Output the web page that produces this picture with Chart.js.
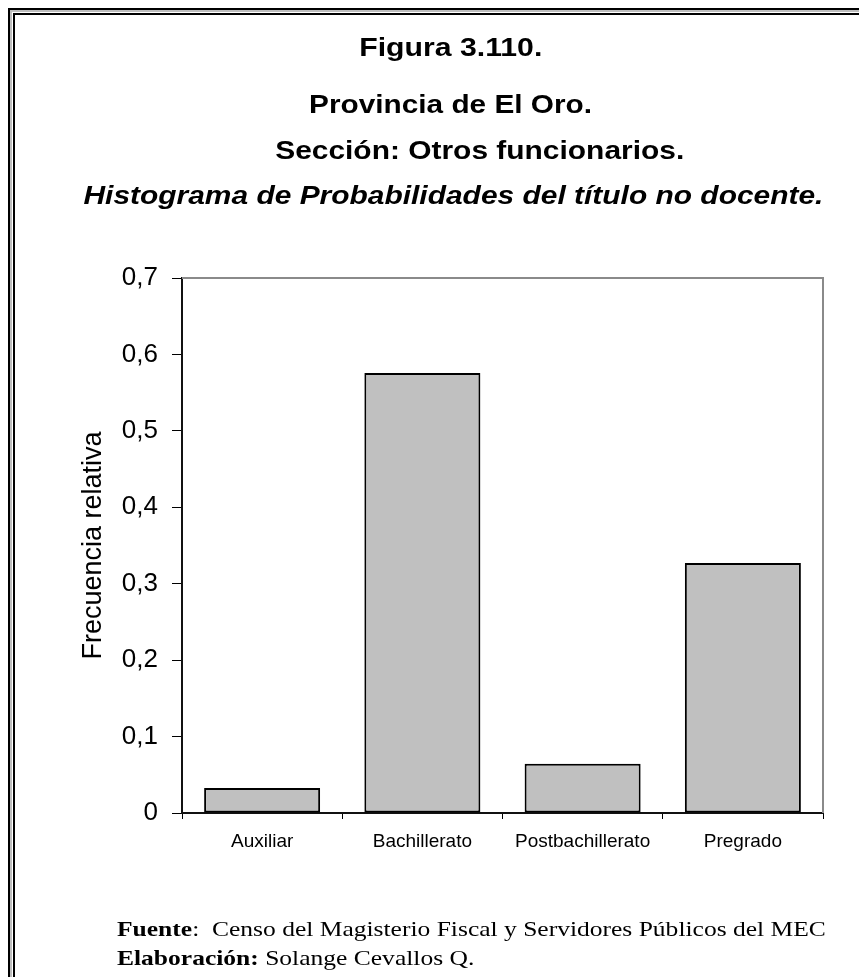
<!DOCTYPE html>
<html lang="es"><head><meta charset="utf-8"/>
<title>Figura 3.110</title>
<script src="https://cdn.jsdelivr.net/npm/chart.js@4.4.1/dist/chart.umd.min.js"></script>
<style>
  html,body{margin:0;padding:0;background:#fff;overflow:hidden}
  body{width:859px;height:977px;position:relative}
  .frame{position:absolute;left:13px;top:13px;width:1000px;height:1100px;border:2px solid #000;
    box-shadow:0 0 0 1px #fff,0 0 0 3px #bdbdbd,0 0 0 5px #000}
  .t{position:absolute;white-space:nowrap;line-height:1;color:#000;
    font-family:"Liberation Sans",Arial,sans-serif;font-weight:bold;font-size:26px;
    transform-origin:center center}
  .t.it{font-style:italic}
  .foot{position:absolute;left:117px;white-space:nowrap;line-height:1;color:#000;
    font-family:"Liberation Serif","Times New Roman",serif;font-size:22px;transform-origin:left center}
  #chart{position:absolute;left:0;top:0}
</style></head><body>
<div class="frame"></div>
<canvas id="chart" width="859" height="977"></canvas>

<div class="t" data-cx="451" data-w="183" style="top:34px">Figura 3.110.</div>
<div class="t" data-cx="451" data-w="283" style="top:91px">Provincia de El Oro.</div>
<div class="t" data-cx="480" data-w="409" style="top:137px">Sección: Otros funcionarios.</div>
<div class="t it" data-cx="453" data-w="740" style="top:182px">Histograma de Probabilidades del título no docente.</div>

<div class="foot" id="f1" style="top:918px"><b>Fuente</b>:&nbsp; Censo del Magisterio Fiscal y Servidores Públicos del MEC</div>
<div class="foot" id="f2" style="top:947px"><b>Elaboración:</b> Solange Cevallos Q.</div>

<script>
// títulos centrados y estirados al ancho de la figura
document.querySelectorAll('.t').forEach(el => {
  const w = el.getBoundingClientRect().width;
  const s = (+el.dataset.w) / w;
  el.style.left = (+el.dataset.cx - w / 2) + 'px';
  el.style.transform = 'scaleX(' + s.toFixed(3) + ')';
});
const fw = document.getElementById('f1').getBoundingClientRect().width;
const fs = 709 / fw;
['f1','f2'].forEach(id => document.getElementById(id).style.transform = 'scaleX(' + fs.toFixed(3) + ')');

// datos
const categorias = ['Auxiliar', 'Bachillerato', 'Postbachillerato', 'Pregrado'];
const frecuencias = [0.0327, 0.5757, 0.0645, 0.3271];
const yTickLabels = ['0', '0,1', '0,2', '0,3', '0,4', '0,5', '0,6', '0,7'];

const SANS = '"Liberation Sans", Arial, sans-serif';

// marco gris arriba y a la derecha del área de trazado
const plotFrame = {
  id: 'plotFrame',
  beforeDatasetsDraw(chart) {
    const {ctx, chartArea: a} = chart;
    ctx.save();
    ctx.strokeStyle = '#8a8a8a';
    ctx.lineWidth = 2;
    ctx.beginPath();
    ctx.moveTo(a.left, a.top);
    ctx.lineTo(a.right, a.top);
    ctx.lineTo(a.right, a.bottom);
    ctx.stroke();
    ctx.restore();
  }
};

new Chart(document.getElementById('chart'), {
  type: 'bar',
  data: {
    labels: categorias,
    datasets: [{
      data: frecuencias,
      backgroundColor: '#c0c0c0',
      borderColor: '#000',
      borderWidth: 2,
      borderSkipped: false,
      barPercentage: 0.724,
      categoryPercentage: 1
    }]
  },
  options: {
    responsive: false,
    animation: false,
    layout: {padding: {left: 77, top: 278, right: 36, bottom: 114}},
    plugins: {legend: {display: false}, tooltip: {enabled: false}},
    scales: {
      x: {
        afterFit: s => { s.height = 50; },
        grid: {offset: true, drawOnChartArea: false, drawTicks: true, tickLength: 6, color: '#000', lineWidth: 1},
        border: {display: true, color: '#111', width: 2},
        ticks: {color: '#000', padding: 11, font: {family: SANS, size: 19}, maxRotation: 0}
      },
      y: {
        min: 0, max: 0.7,
        afterFit: s => { s.width = 105; },
        grid: {drawOnChartArea: false, drawTicks: true, tickLength: 10, color: '#000', lineWidth: 1},
        border: {display: true, color: '#111', width: 2},
        ticks: {
          stepSize: 0.1, color: '#000', padding: 14,
          font: {family: SANS, size: 26},
          callback: (v, i) => yTickLabels[i]
        },
        title: {display: true, text: 'Frecuencia relativa', color: '#000', padding: 0,
          font: {family: SANS, size: 27}}
      }
    }
  },
  plugins: [plotFrame]
});
</script>
</body></html>
